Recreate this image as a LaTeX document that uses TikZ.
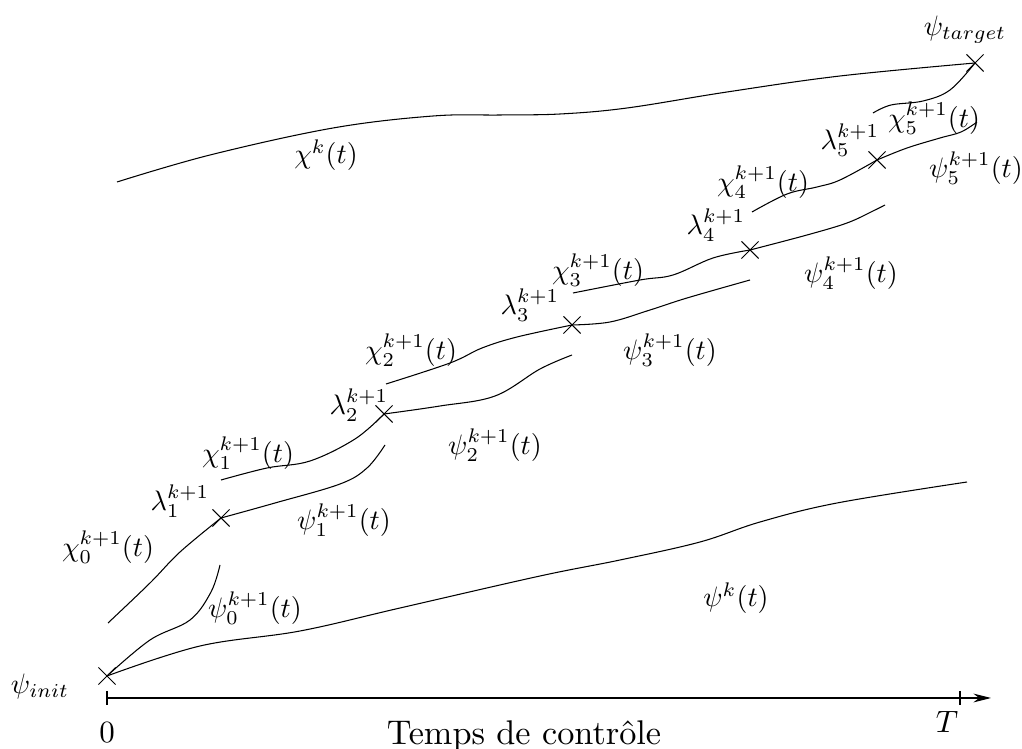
\documentclass[tikz,border=0pt]{standalone}
\usetikzlibrary{arrows.meta,shapes.misc}
\begin{document}
\begin{tikzpicture}[x=0.02cm,y=-0.02cm,
  lbl/.style={scale=1.6, inner sep=0pt},
  txt/.style={scale=1.95, inner sep=0pt},
  xmark/.style={draw, cross out, minimum size=0.32cm, inner sep=0pt, line width=0.6pt},
  curve/.style={line width=0.6pt, smooth, tension=0.6}]
\useasboundingbox (0,0) rectangle (1022,749);

% crosses
\node[xmark] (x0) at (107,676) {};
\node[xmark] (x1) at (221,518) {};
\node[xmark] (x2) at (384,414) {};
\node[xmark] (x3) at (572,325) {};
\node[xmark] (x4) at (750,250) {};
\node[xmark] (x5) at (877,160) {};
\node[xmark] (xt) at (975,63) {};

% free ends
\coordinate (ck0) at (117,182);
\coordinate (pk1) at (967,482);
\coordinate (c0s) at (108,623);
\coordinate (p0e) at (220,565);
\coordinate (c1s) at (221,480);
\coordinate (p1e) at (385,445);
\coordinate (c2s) at (386,384);
\coordinate (p2e) at (572,355);
\coordinate (c3s) at (573,293);
\coordinate (p3e) at (750,280);
\coordinate (c4s) at (752,212);
\coordinate (p4e) at (885,205);
\coordinate (c5s) at (873,113);
\coordinate (p5e) at (977,122);

% chi^k and psi^k
\draw[curve] plot coordinates {(ck0) (210,155) (333,128) (433,116) (500,115) (560,114) (627,108) (727,92) (840,76) (xt.center)};
\draw[curve] plot coordinates {(x0.center) (200,646) (300,631) (400,608) (540,576) (620,560) (700,542) (760,522) (837,503) (pk1)};

% chi_i^{k+1}
\draw[curve] plot coordinates {(c0s) (150,583) (180,552) (x1.center)};
\draw[curve] plot coordinates {(c1s) (267,468) (310,461) (355,439) (x2.center)};
\draw[curve] plot coordinates {(c2s) (450,363) (482,348) (517,337) (x3.center)};
\draw[curve] plot coordinates {(c3s) (640,280) (673,275) (713,258) (x4.center)};
\draw[curve] plot coordinates {(c4s) (787,194) (817,187) (840,180) (x5.center)};
\draw[curve] plot coordinates {(c5s) (891,105) (923,101) (950,90) (xt.center)};

% psi_i^{k+1}
\draw[curve] plot coordinates {(x0.center) (150,640) (190,620) (211,592) (p0e)};
\draw[curve] plot coordinates {(x1.center) (275,503) (340,484) (367,468) (p1e)};
\draw[curve] plot coordinates {(x2.center) (440,406) (495,396) (540,369) (p2e)};
\draw[curve] plot coordinates {(x3.center) (610,322) (650,310) (687,298) (p3e)};
\draw[curve] plot coordinates {(x4.center) (807,235) (847,223) (873,211) (p4e)};
\draw[curve] plot coordinates {(x5.center) (907,148) (940,138) (961,132) (p5e)};

% axis
\coordinate (a0) at (107,698);
\coordinate (aT) at (960,698);
\coordinate (a1) at (991,698);
\draw[line width=0.6pt, -{Stealth[length=10pt,width=5pt]}] (a0) -- (a1);
\draw[line width=0.6pt] ([yshift=0.14cm]a0) -- ([yshift=-0.14cm]a0);
\draw[line width=0.6pt] ([yshift=0.14cm]aT) -- ([yshift=-0.14cm]aT);

% labels
\node[lbl, scale=1.1] (l0) at (107,733) {$0$};
\node[lbl, scale=1.1] (lT) at (947,722) {$T$};
\node[txt] (ltemps) at (524,736) {Temps de contr\^ole};
\node[lbl] (linit) at (40,686) {$\psi_{init}$};
\node[lbl] (ltarget) at (965,30) {$\psi_{target}$};
\node[lbl] (lck) at (326,155) {$\chi^k(t)$};
\node[lbl] (lpk) at (736,598) {$\psi^k(t)$};

\node[lbl] (lc0) at (108,547) {$\chi_0^{k+1}(t)$};
\node[lbl] (lp0) at (255,608) {$\psi_0^{k+1}(t)$};
\node[lbl] (lm1) at (180,501) {$\lambda_1^{k+1}$};
\node[lbl] (lc1) at (248,453) {$\chi_1^{k+1}(t)$};
\node[lbl] (lp1) at (344,520) {$\psi_1^{k+1}(t)$};
\node[lbl] (lm2) at (359,405) {$\lambda_2^{k+1}$};
\node[lbl] (lc2) at (411,350) {$\chi_2^{k+1}(t)$};
\node[lbl] (lp2) at (495,445) {$\psi_2^{k+1}(t)$};
\node[lbl] (lm3) at (530,305) {$\lambda_3^{k+1}$};
\node[lbl] (lc3) at (598,270) {$\chi_3^{k+1}(t)$};
\node[lbl] (lp3) at (670,350) {$\psi_3^{k+1}(t)$};
\node[lbl] (lm4) at (716,225) {$\lambda_4^{k+1}$};
\node[lbl] (lc4) at (763,182) {$\chi_4^{k+1}(t)$};
\node[lbl] (lp4) at (851,273) {$\psi_4^{k+1}(t)$};
\node[lbl] (lm5) at (850,140) {$\lambda_5^{k+1}$};
\node[lbl] (lc5) at (934,118) {$\chi_5^{k+1}(t)$};
\node[lbl] (lp5) at (976,168) {$\psi_5^{k+1}(t)$};
\end{tikzpicture}
\end{document}
